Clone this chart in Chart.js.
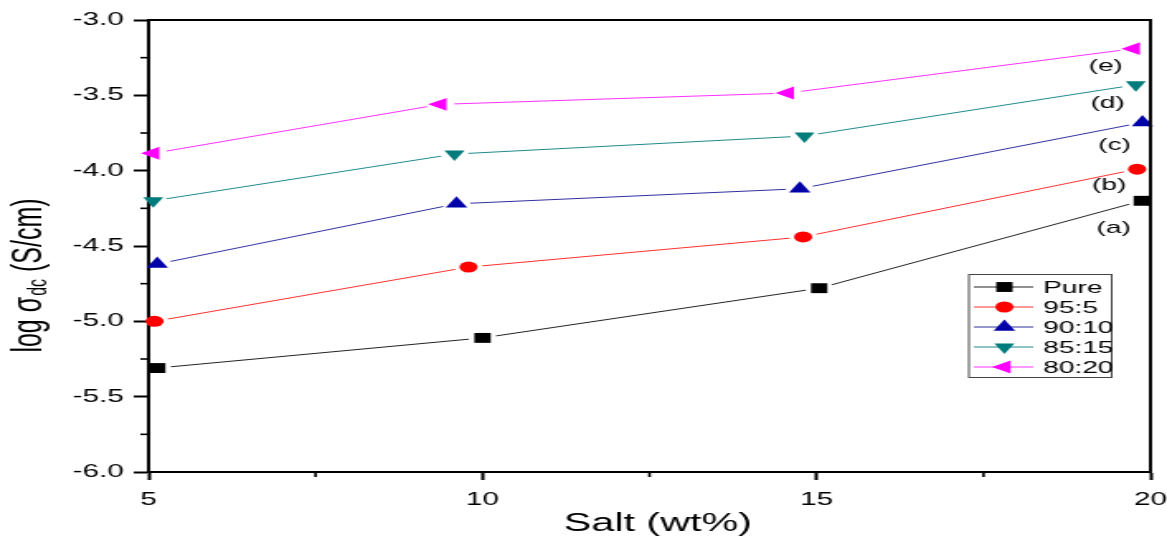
<!DOCTYPE html>
<html>
<head>
<meta charset="utf-8">
<script src="https://cdn.jsdelivr.net/npm/chart.js@4.4.1/dist/chart.umd.min.js"></script>
<style>
  html, body { margin: 0; padding: 0; background: #fff; overflow: hidden; }
  #wrap { width: 1167px; height: 542px; overflow: hidden; }
  #c { display: block; transform: scaleX(1.6506); transform-origin: 0 0; }
</style>
</head>
<body>
<div id="wrap"><canvas id="c" width="707" height="542"></canvas></div>
<script>
// ---- data ----
const seriesNames = ['Pure', '95:5', '90:10', '85:15', '80:20'];
const curveLabels = ['(a)', '(b)', '(c)', '(d)', '(e)'];

const saltPure  = [5.13, 10.00, 15.04, 19.87];
const logPure   = [-5.31, -5.11, -4.78, -4.20];

const salt95_5  = [5.09, 9.79, 14.80, 19.80];
const log95_5   = [-5.00, -4.64, -4.44, -3.99];

const salt90_10 = [5.13, 9.61, 14.75, 19.88];
const log90_10  = [-4.62, -4.22, -4.12, -3.68];

const salt85_15 = [5.07, 9.58, 14.82, 19.78];
const log85_15  = [-4.20, -3.89, -3.77, -3.43];

const salt80_20 = [5.07, 9.37, 14.57, 19.75];
const log80_20  = [-3.885, -3.56, -3.485, -3.19];

const xTickRange = [5, 20];
const yTickRange = [-6.0, -3.0];

const FONT = "'Liberation Sans', Arial, sans-serif";

function pts(xs, ys) { return xs.map((x, i) => ({ x: x, y: ys[i] })); }

const styles = [
  { line: '#222222', fill: '#000000', style: 'rect',     r: 7,   rot: 0 },
  { line: '#ff3030', fill: '#ff0000', style: 'circle',   r: 5.5, rot: 0 },
  { line: '#3030a0', fill: '#0000a8', style: 'triangle', r: 7.5, rot: 0 },
  { line: '#208a8a', fill: '#007b7b', style: 'triangle', r: 7,   rot: 180 },
  { line: '#ff30ff', fill: '#ff00ff', style: 'triangle', r: 7.5, rot: 270 }
];
const seriesData = [
  pts(saltPure, logPure), pts(salt95_5, log95_5), pts(salt90_10, log90_10),
  pts(salt85_15, log85_15), pts(salt80_20, log80_20)
];

const datasets = seriesNames.map((name, i) => ({
  label: name,
  data: seriesData[i],
  borderColor: styles[i].line,
  borderWidth: 1,
  backgroundColor: styles[i].fill,
  pointBackgroundColor: styles[i].fill,
  pointBorderColor: styles[i].fill,
  pointBorderWidth: 0,
  pointStyle: styles[i].style,
  pointRadius: styles[i].r,
  pointRotation: styles[i].rot,
  pointHoverRadius: styles[i].r,
  tension: 0,
  fill: false
}));

// white gap around each marker (Origin style), then redraw marker
const haloPlugin = {
  id: 'halo',
  afterDatasetDraw(chart, args) {
    const ctx = chart.ctx, a = chart.chartArea;
    const meta = args.meta;
    ctx.save();
    ctx.beginPath();
    ctx.rect(a.left + 1.5, a.top + 1.5, a.right - a.left - 3, a.bottom - a.top - 3);
    ctx.clip();
    ctx.fillStyle = '#ffffff';
    meta.data.forEach(el => {
      ctx.beginPath();
      ctx.arc(el.x, el.y, 8.5, 0, Math.PI * 2);
      ctx.fill();
    });
    ctx.restore();
    meta.data.forEach(el => el.draw(ctx, a));
  }
};

const decorPlugin = {
  id: 'decor',
  afterDraw(chart) {
    const ctx = chart.ctx, a = chart.chartArea;
    const xs = chart.scales.x, ys = chart.scales.y;
    ctx.save();
    // frame (top and right)
    ctx.strokeStyle = '#000';
    ctx.lineWidth = 2;
    ctx.beginPath();
    ctx.moveTo(a.left - 1, a.top);
    ctx.lineTo(a.right, a.top);
    ctx.lineTo(a.right, a.bottom + 1);
    ctx.stroke();

    // minor ticks: midpoints of major ticks
    ctx.lineWidth = 1.6;
    const xt = xs.ticks.map(t => t.value);
    for (let i = 0; i < xt.length - 1; i++) {
      const px = xs.getPixelForValue((xt[i] + xt[i + 1]) / 2);
      ctx.beginPath();
      ctx.moveTo(px, a.bottom);
      ctx.lineTo(px, a.bottom + 5);
      ctx.stroke();
    }
    const yt = ys.ticks.map(t => t.value);
    for (let i = 0; i < yt.length - 1; i++) {
      const py = ys.getPixelForValue((yt[i] + yt[i + 1]) / 2);
      ctx.beginPath();
      ctx.moveTo(a.left - 5, py);
      ctx.lineTo(a.left, py);
      ctx.stroke();
    }

    // curve labels (a)-(e) next to the last point of each series
    ctx.fillStyle = '#000';
    ctx.font = '17px ' + FONT;
    ctx.textAlign = 'center';
    ctx.textBaseline = 'middle';
    const lasts = chart.data.datasets.map((d, i) => {
      const m = chart.getDatasetMeta(i);
      return m.data[m.data.length - 1];
    });
    lasts.forEach((p, i) => {
      const y = i === 0 ? p.y + 28 : (p.y + lasts[i - 1].y) / 2;
      ctx.fillText(curveLabels[i], p.x - 17, y);
    });

    // legend
    const bx = a.right - 110.5, by = a.top + 254, bw = 86.5, bh = 103;
    ctx.fillStyle = '#fff';
    ctx.fillRect(bx, by, bw, bh);
    ctx.strokeStyle = '#444';
    ctx.lineWidth = 1;
    ctx.strokeRect(bx + 0.5, by + 0.5, bw, bh);
    chart.data.datasets.forEach((d, i) => {
      const ry = by + 13 + i * 20;
      ctx.strokeStyle = d.borderColor;
      ctx.lineWidth = 1;
      ctx.beginPath();
      ctx.moveTo(bx + 3.5, ry);
      ctx.lineTo(bx + 39.5, ry);
      ctx.stroke();
      ctx.fillStyle = d.pointBackgroundColor;
      Chart.helpers.drawPoint(ctx, {
        pointStyle: d.pointStyle, radius: d.pointRadius, rotation: d.pointRotation,
        borderWidth: 0
      }, bx + 22, ry);
      ctx.fillStyle = '#000';
      ctx.font = '17px ' + FONT;
      ctx.textAlign = 'left';
      ctx.textBaseline = 'middle';
      ctx.fillText(d.label, bx + 45.5, ry + 1);
    });

    // y axis title: log σ_dc (S/cm)
    ctx.save();
    ctx.translate(18, 276);
    ctx.rotate(-Math.PI / 2);
    ctx.fillStyle = '#000';
    ctx.textBaseline = 'middle';
    ctx.textAlign = 'left';
    const big = '25px ' + FONT, small = '16px ' + FONT;
    const p1 = 'log \u03C3', p2 = 'dc', p3 = ' (S/cm)';
    ctx.font = big; const w1 = ctx.measureText(p1).width, w3 = ctx.measureText(p3).width;
    ctx.font = small; const w2 = ctx.measureText(p2).width;
    let x0 = -(w1 + w2 + w3) / 2;
    ctx.font = big; ctx.fillText(p1, x0, 0);
    ctx.font = small; ctx.fillText(p2, x0 + w1 + 1, 6);
    ctx.font = big; ctx.fillText(p3, x0 + w1 + w2 + 1, 0);
    ctx.restore();

    // x axis title
    ctx.fillStyle = '#000';
    ctx.font = '25px ' + FONT;
    ctx.textAlign = 'center';
    ctx.textBaseline = 'middle';
    ctx.fillText('Salt (wt%)', (a.left + a.right) / 2 + 5, 524);
    ctx.restore();
  }
};

new Chart(document.getElementById('c'), {
  type: 'line',
  data: { datasets: datasets },
  options: {
    responsive: false,
    animation: false,
    devicePixelRatio: 1,
    layout: { padding: { left: 0, right: 0, top: 20, bottom: 0 } },
    plugins: { legend: { display: false }, tooltip: { enabled: false } },
    scales: {
      x: {
        type: 'linear',
        min: xTickRange[0], max: xTickRange[1],
        ticks: { stepSize: 5, color: '#000', padding: 9, maxRotation: 0, autoSkip: false,
                 font: { size: 18, family: FONT } },
        grid: { drawOnChartArea: false, drawTicks: true, tickLength: 8, tickWidth: 2, tickColor: '#000' },
        border: { display: true, color: '#000', width: 2 },
        afterFit(s) { s.height = 70; s.paddingRight = 10; s.paddingLeft = 0; }
      },
      y: {
        type: 'linear',
        min: yTickRange[0], max: yTickRange[1],
        ticks: { stepSize: 0.5, color: '#000', padding: 6,
                 callback: v => Number(v).toFixed(1),
                 font: { size: 18, family: FONT } },
        grid: { drawOnChartArea: false, drawTicks: true, tickLength: 9, tickWidth: 2, tickColor: '#000' },
        border: { display: true, color: '#000', width: 2 },
        afterFit(s) { s.width = 90; }
      }
    }
  },
  plugins: [haloPlugin, decorPlugin]
});
</script>
</body>
</html>
